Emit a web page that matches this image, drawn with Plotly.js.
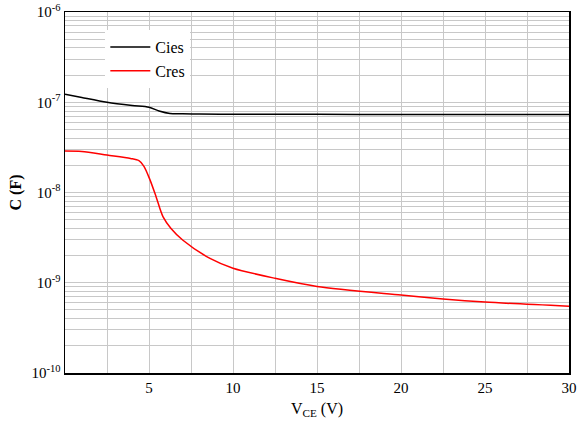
<!DOCTYPE html>
<html><head><meta charset="utf-8">
<script src="https://cdn.plot.ly/plotly-3.0.1.min.js"></script>
<style>html,body{margin:0;padding:0;background:#fff}#c{width:577px;height:421px}</style>
</head><body><div id="c"></div>
<script>
const ciesX = [0, 1, 2.5, 4, 5, 5.6, 6.25, 7, 8, 10, 15, 20, 25, 30];
const ciesY = [1.23e-7, 1.13e-7, 1.0e-7, 0.92e-7, 0.88e-7, 0.80e-7, 0.75e-7, 0.745e-7, 0.74e-7, 0.735e-7, 0.735e-7, 0.73e-7, 0.73e-7, 0.73e-7];
const cresX = [0, 1, 2.5, 3.9, 4.4, 4.7, 5.06, 5.42, 5.83, 6.31, 7.02, 8.63, 10, 12.5, 15, 20, 22.5, 25, 30];
const cresY = [2.88e-8, 2.85e-8, 2.6e-8, 2.38e-8, 2.25e-8, 1.95e-8, 1.38e-8, 9.0e-9, 5.4e-9, 4.0e-9, 2.96e-9, 1.86e-9, 1.45e-9, 1.12e-9, 0.91e-9, 0.73e-9, 0.66e-9, 0.61e-9, 0.55e-9];
const xTicks = [5, 10, 15, 20, 25, 30];
const xLabels = ['5', '10', '15', '20', '25', '30'];
const xMinor = [0, 2.5, 7.5, 12.5, 17.5, 22.5, 27.5];
const decades = [-10, -9, -8, -7, -6];

const yVals = decades.map(d => Math.pow(10, d));
const yText = decades.map(d => '10<sup>' + d + '</sup>');
const yMinor = [];
decades.slice(0, -1).forEach(d => {
  for (let m = 2; m <= 9; m++) yMinor.push(m * Math.pow(10, d));
});

const traces = [
  {x: ciesX, y: ciesY, name: 'Cies', mode: 'lines', line: {color: '#000000', width: 1.5, shape: 'spline', smoothing: 0.8}},
  {x: cresX, y: cresY, name: 'Cres', mode: 'lines', line: {color: '#ff0000', width: 1.5, shape: 'spline', smoothing: 0.8}}
];
const serif = 'Liberation Serif';
const grid = '#c8c8c8';
const layout = {
  width: 577, height: 421,
  margin: {l: 65, r: 8, t: 12, b: 48},
  paper_bgcolor: '#fff', plot_bgcolor: '#fff',
  showlegend: true,
  legend: {x: 0.08, y: 0.95, xanchor: 'left', yanchor: 'top', bgcolor: '#ffffff', borderwidth: 0,
    itemwidth: 40,
    font: {family: serif, size: 16, color: '#000'}, tracegroupgap: 0},
  xaxis: {range: [0, 30], tickmode: 'array', tickvals: xTicks, ticktext: xLabels,
    showgrid: true, gridcolor: grid, gridwidth: 1, zeroline: false,
    minor: {tickmode: 'array', tickvals: xMinor, showgrid: true, gridcolor: grid, gridwidth: 1, ticks: ''},
    showline: true, mirror: true, linecolor: '#000', linewidth: 1.5, ticks: '',
    tickfont: {family: serif, size: 15, color: '#000'},
    title: {text: 'V<sub>CE</sub> (V)', font: {family: serif, size: 16, color: '#000'}, standoff: 8}},
  yaxis: {type: 'log', range: [-10, -6], tickmode: 'array', tickvals: yVals, ticktext: yText,
    showgrid: true, gridcolor: grid, gridwidth: 1, zeroline: false,
    minor: {tickmode: 'array', tickvals: yMinor, showgrid: true, gridcolor: grid, gridwidth: 1, ticks: ''},
    showline: true, mirror: true, linecolor: '#000', linewidth: 1.5, ticks: '',
    tickfont: {family: serif, size: 15, color: '#000'},
    title: {text: '<b>C (F)</b>', font: {family: serif, size: 16, color: '#000'}, standoff: 6}}
};
Plotly.newPlot('c', traces, layout, {displayModeBar: false, staticPlot: true});
</script></body></html>
